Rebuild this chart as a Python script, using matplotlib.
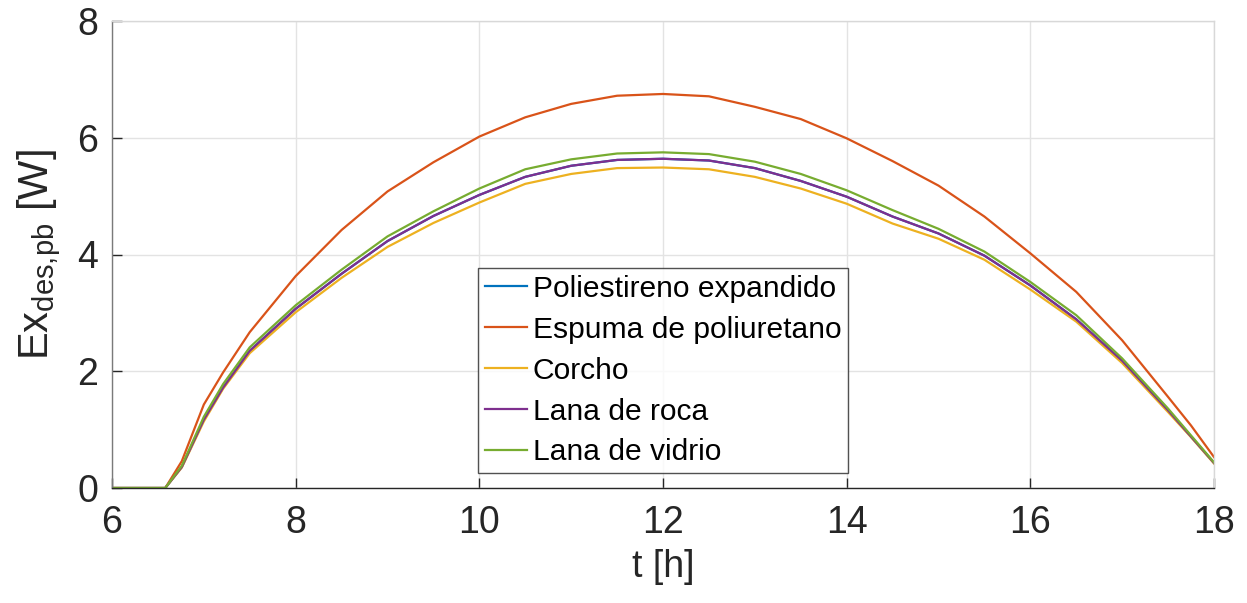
import matplotlib
matplotlib.use("Agg")
import matplotlib.pyplot as plt
from matplotlib import font_manager

# ---------------- data ----------------
t_h = [6.0, 6.58, 6.76, 7.0, 7.21, 7.5, 8.0, 8.5, 9.0, 9.5, 10.0, 10.5, 11.0, 11.5,
       12.0, 12.5, 13.0, 13.5, 14.0, 14.5, 15.0, 15.5, 16.0, 16.5, 17.0, 17.5, 17.75, 18.0]

poliestireno = [0, 0, 0.36, 1.17, 1.72, 2.35, 3.07, 3.67, 4.23, 4.66, 5.02, 5.33, 5.52, 5.62,
                5.64, 5.61, 5.48, 5.26, 4.99, 4.65, 4.36, 3.98, 3.47, 2.89, 2.18, 1.33, 0.88, 0.43]
espuma = [0, 0, 0.46, 1.43, 1.98, 2.67, 3.63, 4.42, 5.08, 5.58, 6.02, 6.35, 6.58, 6.72,
          6.75, 6.71, 6.53, 6.32, 5.99, 5.60, 5.18, 4.65, 4.02, 3.36, 2.53, 1.56, 1.07, 0.53]
corcho = [0, 0, 0.35, 1.14, 1.70, 2.31, 3.01, 3.60, 4.13, 4.54, 4.89, 5.21, 5.38, 5.48,
          5.49, 5.46, 5.33, 5.13, 4.87, 4.53, 4.27, 3.91, 3.40, 2.85, 2.14, 1.30, 0.87, 0.42]
lana_roca = [0, 0, 0.36, 1.17, 1.72, 2.35, 3.07, 3.67, 4.23, 4.66, 5.02, 5.33, 5.52, 5.62,
             5.64, 5.61, 5.48, 5.26, 4.99, 4.65, 4.36, 3.98, 3.47, 2.89, 2.18, 1.33, 0.88, 0.43]
lana_vidrio = [0, 0, 0.38, 1.22, 1.78, 2.41, 3.13, 3.74, 4.31, 4.74, 5.13, 5.46, 5.63, 5.73,
               5.75, 5.72, 5.59, 5.38, 5.10, 4.76, 4.44, 4.05, 3.53, 2.96, 2.22, 1.36, 0.90, 0.44]

series_names = ["Poliestireno expandido", "Espuma de poliuretano", "Corcho",
                "Lana de roca", "Lana de vidrio"]
series_values = [poliestireno, espuma, corcho, lana_roca, lana_vidrio]
series_colors = ["#0072BD", "#D95319", "#EDB120", "#7E2F8E", "#77AC30"]

x_ticks = [6, 8, 10, 12, 14, 16, 18]
y_ticks = [0, 2, 4, 6, 8]

# ---------------- style ----------------
plt.rcParams["font.family"] = ["Liberation Sans", "DejaVu Sans"]
plt.rcParams["mathtext.fontset"] = "custom"
plt.rcParams["mathtext.rm"] = "Liberation Sans"
plt.rcParams["mathtext.it"] = "Liberation Sans"

avail = {f.name for f in font_manager.fontManager.ttflist}
narrow = "Liberation Sans Narrow" if "Liberation Sans Narrow" in avail else "Liberation Sans"

fig = plt.figure(figsize=(12.47, 6.03), dpi=100)
ax = fig.add_axes([112 / 1247, 1 - 488 / 603, (1214 - 112) / 1247, (488 - 21) / 603])

for name, vals, col in zip(series_names, series_values, series_colors):
    ax.plot(t_h, vals, color=col, linewidth=1.6, label=name)

ax.set_xlim(6, 18)
ax.set_ylim(0, 8)
ax.set_xticks(x_ticks)
ax.set_yticks(y_ticks)
ax.grid(True, color="#e3e3e3", linewidth=1.0)
ax.set_axisbelow(True)

ax.tick_params(axis="both", direction="in", length=7, width=1.0, color="#262626",
               labelcolor="#262626")
ax.tick_params(axis="y", labelsize=27, pad=10)
ax.tick_params(axis="x", labelsize=27, pad=12)
for lab in ax.get_xticklabels():
    lab.set_family(narrow)

ax.spines["bottom"].set_color("#262626")
ax.spines["left"].set_color("#7a7a7a")
ax.spines["top"].set_color("#d8d8d8")
ax.spines["right"].set_color("#d8d8d8")
for s in ax.spines.values():
    s.set_linewidth(1.0)

ax.set_xlabel("t [h]", fontsize=27, color="#262626", labelpad=6, family=narrow)
ax.set_ylabel(r"Ex$_{\mathrm{des{,}pb}}$ [W]", fontsize=30, color="#262626", labelpad=10)

leg = ax.legend(loc="lower left", bbox_to_anchor=((478 - 112) / 1102, (488 - 473) / 467),
                borderaxespad=0, fontsize=21.6, frameon=True, fancybox=False,
                edgecolor="#262626", handlelength=1.4, handletextpad=0.2,
                labelspacing=0.43, borderpad=0.22)
leg.get_frame().set_linewidth(1.0)

fig.savefig("out.png", dpi=100)
